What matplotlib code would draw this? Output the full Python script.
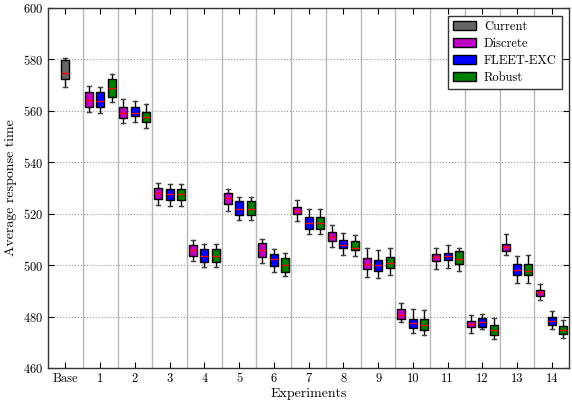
import numpy as np
import matplotlib
matplotlib.use("Agg")
import matplotlib.pyplot as plt
from matplotlib.patches import Patch

plt.rcParams['font.family'] = 'cmr10'
plt.rcParams['mathtext.fontset'] = 'cm'
plt.rcParams['axes.formatter.use_mathtext'] = True

labels = ['Base'] + [str(i) for i in range(1, 15)]

# Base / "Current" box: low whisker, q1, median, q3, high whisker
current = [569.3, 572.3, 574.8, 579.7, 580.5]

# per experiment 1..14 : whisker low, q1, median, q3, whisker high
discrete_lo = [559.5, 555.2, 523.5, 501.5, 521.0, 501.0, 517.0, 507.1, 495.5, 477.9, 498.5, 473.5, 503.8, 486.4]
discrete_q1 = [561.6, 557.1, 525.8, 503.5, 523.9, 503.1, 519.7, 509.2, 498.5, 479.2, 501.5, 476.0, 505.6, 488.1]
discrete_md = [564.1, 559.2, 528.0, 505.8, 526.1, 505.9, 521.2, 511.1, 500.6, 480.5, 503.1, 477.1, 507.0, 489.4]
discrete_q3 = [567.2, 561.4, 530.1, 507.7, 528.1, 508.5, 522.5, 512.9, 502.6, 482.8, 504.4, 478.2, 508.4, 490.5]
discrete_hi = [569.5, 564.8, 532.1, 509.7, 529.5, 510.3, 525.5, 515.7, 506.5, 485.3, 506.5, 480.6, 512.2, 492.5]

fleet_lo = [559.3, 555.8, 523.1, 499.4, 517.7, 497.2, 512.2, 504.1, 494.8, 473.7, 499.0, 475.2, 493.0, 475.0]
fleet_q1 = [561.6, 557.9, 525.2, 501.4, 519.5, 499.5, 514.0, 506.5, 497.8, 475.4, 502.1, 476.0, 496.2, 476.8]
fleet_md = [563.8, 559.2, 527.6, 503.6, 521.7, 502.2, 516.2, 507.7, 500.0, 477.4, 503.6, 477.7, 498.2, 478.3]
fleet_q3 = [567.3, 561.4, 529.5, 506.3, 524.8, 504.5, 518.7, 509.8, 502.1, 479.2, 504.9, 479.4, 500.5, 479.9]
fleet_hi = [569.4, 563.8, 531.6, 508.1, 526.5, 506.3, 521.8, 512.6, 505.7, 482.8, 508.0, 481.0, 503.4, 482.1]

robust_lo = [563.4, 553.2, 523.0, 499.4, 517.7, 495.6, 512.2, 503.5, 496.3, 473.0, 497.8, 471.3, 493.1, 471.5]
robust_q1 = [565.4, 555.7, 525.2, 501.4, 519.5, 497.5, 514.0, 505.9, 498.7, 474.8, 500.3, 473.0, 496.2, 473.2]
robust_md = [568.9, 557.5, 527.5, 503.6, 521.7, 499.9, 516.2, 506.8, 500.8, 476.6, 502.2, 474.7, 497.9, 474.8]
robust_q3 = [572.3, 559.6, 529.5, 506.3, 524.8, 502.6, 518.7, 509.2, 503.2, 479.0, 505.3, 476.6, 500.4, 476.5]
robust_hi = [574.5, 562.6, 531.6, 508.1, 526.5, 504.6, 521.8, 511.6, 506.8, 482.7, 506.5, 479.6, 504.0, 478.6]

series = [
    ('Discrete', '#c000c0', discrete_lo, discrete_q1, discrete_md, discrete_q3, discrete_hi),
    ('FLEET-EXC', '#0000ff', fleet_lo, fleet_q1, fleet_md, fleet_q3, fleet_hi),
    ('Robust', '#008000', robust_lo, robust_q1, robust_md, robust_q3, robust_hi),
]
current_color = '#666666'


def make_stats(lo, q1, md, q3, hi):
    return [dict(whislo=a, q1=b, med=c, q3=d, whishi=e, fliers=[])
            for a, b, c, d, e in zip(lo, q1, md, q3, hi)]


fig = plt.figure(figsize=(5.72, 4.03), dpi=100)
ax = fig.add_axes([0.084, 0.087, 0.911, 0.893])

box_kw = dict(patch_artist=True, widths=0.23, showfliers=False,
              medianprops=dict(color='red', lw=1),
              whiskerprops=dict(color='black', lw=1, linestyle='-'),
              capprops=dict(color='0.25', lw=1),
              manage_ticks=False)

b = ax.bxp(make_stats(*[[v] for v in current]), positions=[0], **box_kw)
for p in b['boxes']:
    p.set_facecolor(current_color)
    p.set_edgecolor('black')

offsets = [-0.33, 0.0, 0.33]
groups = np.arange(1, 15)
for (name, col, lo, q1, md, q3, hi), off in zip(series, offsets):
    b = ax.bxp(make_stats(lo, q1, md, q3, hi), positions=groups + off, **box_kw)
    for p in b['boxes']:
        p.set_facecolor(col)
        p.set_edgecolor('black')

# separators between experiments
for x in np.arange(0.5, 14.5, 1):
    ax.axvline(x, color='0.72', lw=1, zorder=0)

ax.set_yticks(np.arange(460, 601, 20))
ax.yaxis.grid(True, linestyle=':', color='0.6', lw=0.8)
ax.set_axisbelow(True)
ax.set_xlim(-0.5, 14.5)
ax.set_ylim(460, 600)
ax.set_xticks(np.arange(15))
ax.set_xticklabels(labels)
ax.tick_params(direction='in', top=True, right=True, labelsize=9, length=4)
for s in ax.spines.values():
    s.set_linewidth(1)
    s.set_color('0.2')

ax.set_xlabel('Experiments', fontsize=10, labelpad=2)
ax.set_ylabel('Average response time', fontsize=10)

handles = [Patch(facecolor=current_color, edgecolor='black', label='Current')]
handles += [Patch(facecolor=s[1], edgecolor='black', label=s[0]) for s in series]
leg = ax.legend(handles=handles, loc='upper right', fontsize=9, fancybox=False,
                framealpha=1, edgecolor='0.2', handlelength=1.9, handleheight=0.8,
                borderpad=0.4, labelspacing=0.4, handletextpad=0.6,
                borderaxespad=0.6)
leg.get_frame().set_linewidth(1)

fig.savefig('out.png', dpi=100)
